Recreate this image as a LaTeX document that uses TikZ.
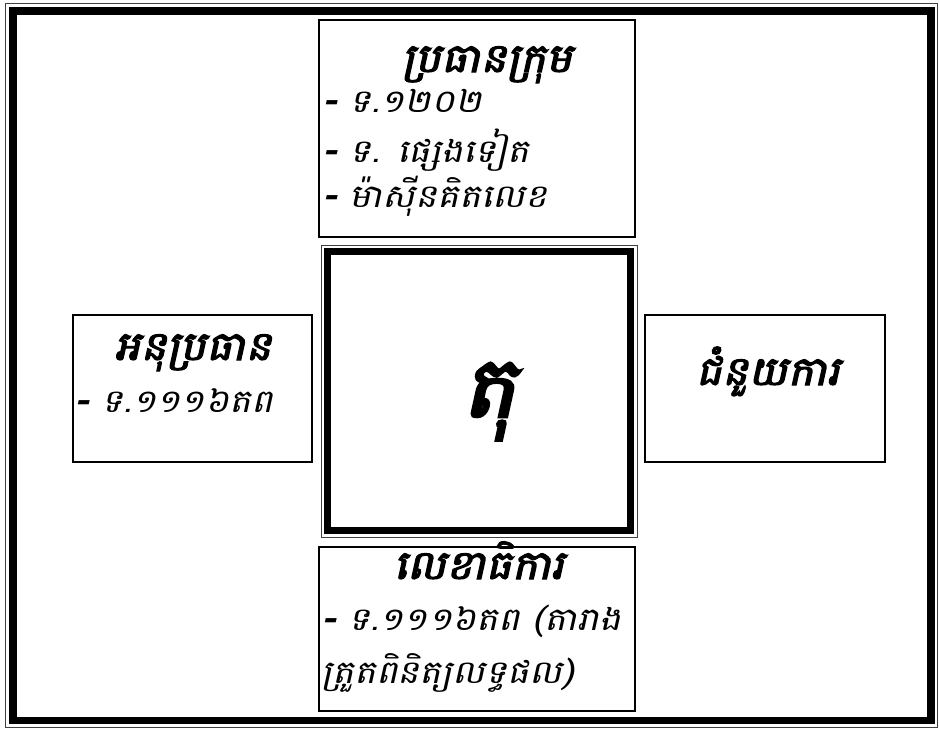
\documentclass[tikz,border=0pt]{standalone}
\usepackage{fontspec}
\newfontfamily\khit[Script=Khmer,FakeSlant=0.22,FakeStretch=1.15]{Battambang}
\newfontfamily\khbf[Script=Khmer,FakeSlant=0.22,FakeBold=3,FakeStretch=1.1]{Battambang}
\tikzset{
  box/.style={draw=black,line width=1.5pt,inner sep=0pt},
  ttl/.style={inner sep=0pt,anchor=base,font=\khbf\fontsize{40}{40}\selectfont},
  itm/.style={inner sep=0pt,anchor=base west,font=\khit\fontsize{32}{32}\selectfont},
}
\begin{document}
\begin{tikzpicture}[x=1pt,y=-1pt]
\useasboundingbox (0,0) rectangle (939,729);
% outer frame
\draw[line width=1pt,draw=black!75] (5,3) rectangle (937,727);
\draw[line width=7.5pt] (13,11) rectangle (931,720.5);
% center box
\draw[line width=1pt,draw=black!75] (321,245) rectangle (637,537);
\draw[line width=7pt] (327.5,251) rectangle (630,530);
% boxes
\node[box,minimum width=316pt,minimum height=217pt] (topb) at (477,128.5) {};
\node[box,minimum width=239pt,minimum height=147pt] (leftb) at (192.5,388.5) {};
\node[box,minimum width=240pt,minimum height=147pt] (rightb) at (765,388.5) {};
\node[box,minimum width=316pt,minimum height=164pt] (botb) at (477,629) {};
% top texts
\node[ttl] (t1) at (487,72) {ប្រធានក្រុម};
\node[itm] (t2) at (322,112) {\textbf{-} ទ.១២០២};
\node[itm] (t3) at (322,162) {\textbf{-} ទ. ផ្សេងទៀត};
\node[itm] (t4) at (322,207) {\textbf{-} ម៉ាស៊ីនគិតលេខ};
% left
\node[ttl] (l1) at (193,360) {អនុប្រធាន};
\node[itm] (l2) at (74,412) {\textbf{-} ទ.១១១៦តព};
% right
\node[ttl] (r1) at (768,385) {ជំនួយការ};
% bottom
\node[ttl] (b1) at (479,579) {លេខាធិការ};
\node[itm] (b2) at (321,630) {\textbf{-} ទ.១១១៦តព (តារាង};
\node[itm] (b3) at (321,683) {ត្រួតពិនិត្យលទ្ធផល)};
% center
\node[inner sep=0pt,anchor=base,font=\khbf\fontsize{85}{85}\selectfont] (c) at (489,417) {តុ};
\end{tikzpicture}
\end{document}
